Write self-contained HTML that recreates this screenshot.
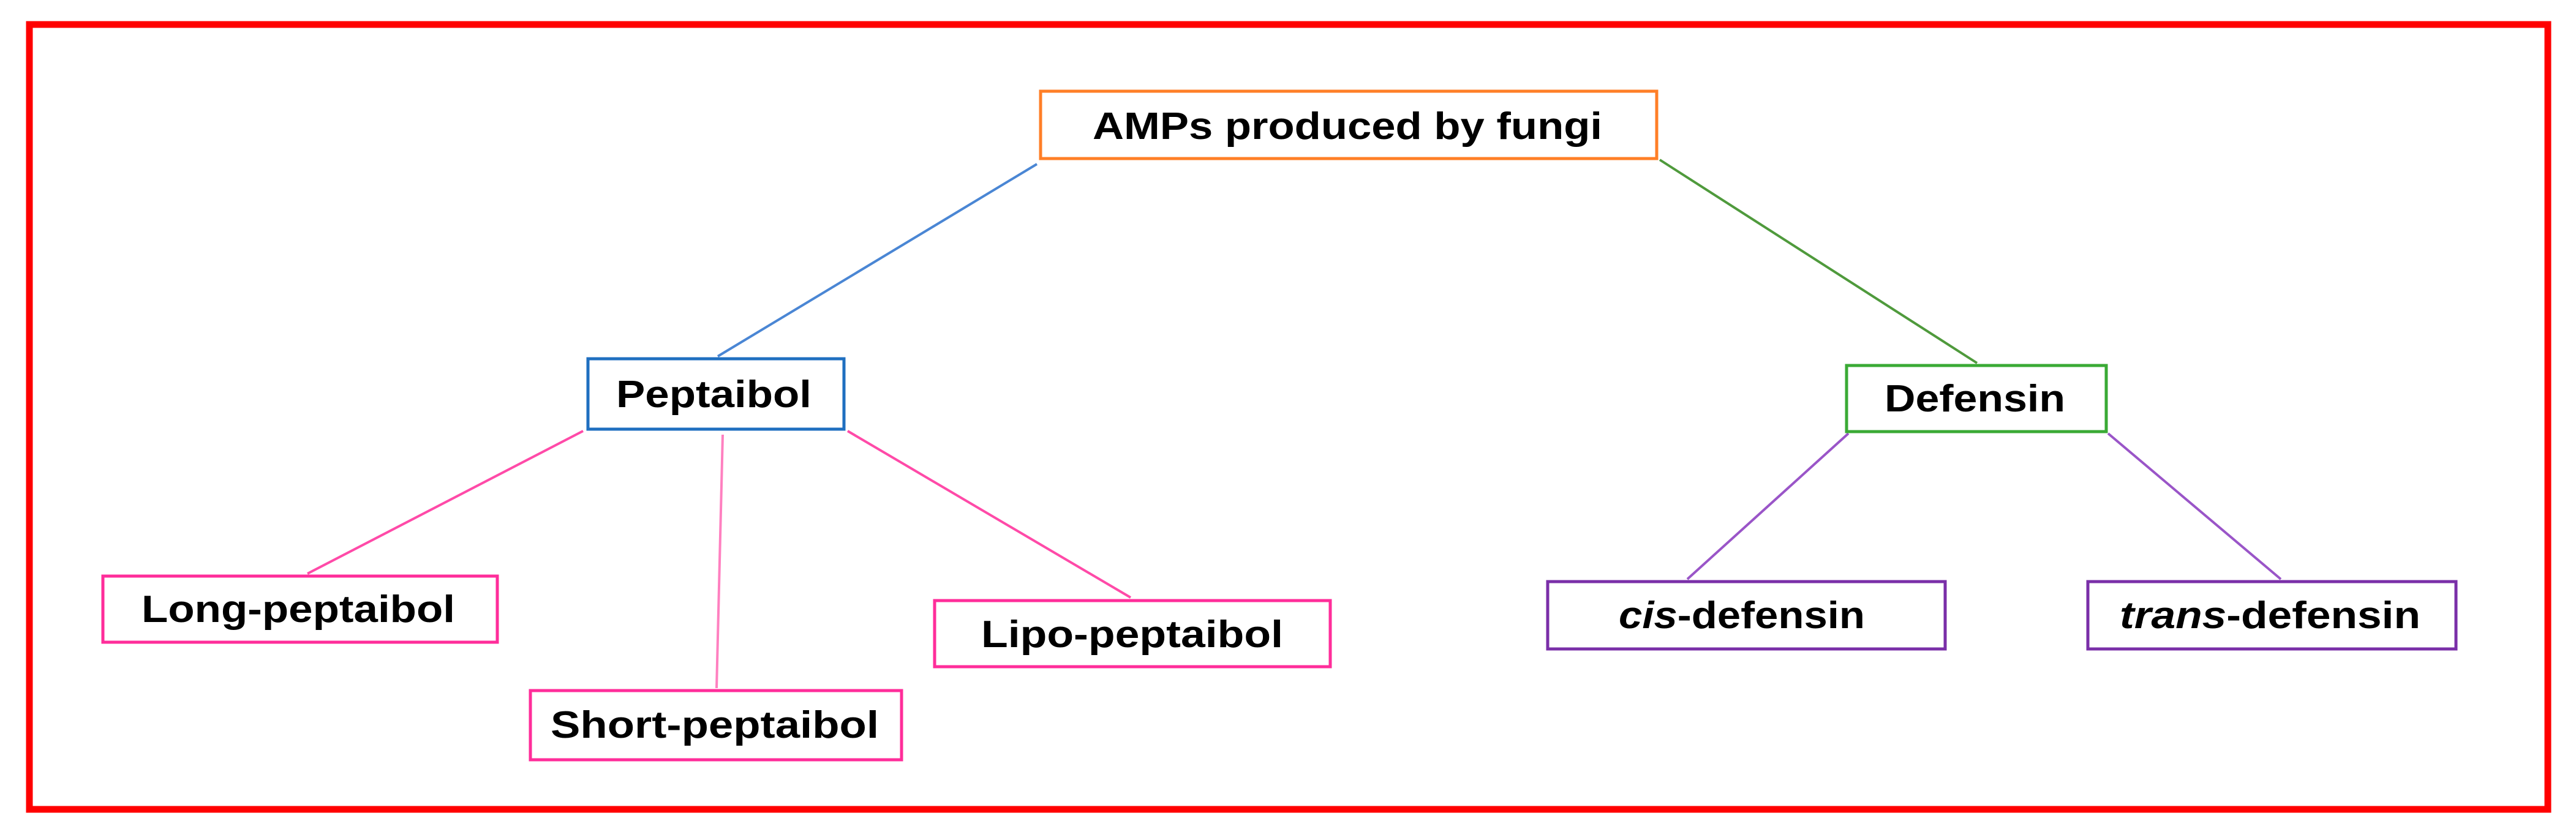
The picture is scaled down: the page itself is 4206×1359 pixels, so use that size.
<!DOCTYPE html>
<html><head><meta charset="utf-8"><style>
html,body{margin:0;padding:0;background:#fff;}
svg{display:block;}
text{font-family:"Liberation Sans",sans-serif;font-weight:bold;font-size:62px;fill:#000;}
</style></head><body>
<svg width="4206" height="1359" viewBox="0 0 4206 1359" xmlns="http://www.w3.org/2000/svg">
<rect x="0" y="0" width="4206" height="1359" fill="#fff"/>
<rect x="48" y="40" width="4112" height="1282" fill="none" stroke="#ff0000" stroke-width="11"/>
<g stroke-width="4" fill="none">
<line x1="1693" y1="268" x2="1172" y2="582" stroke="#4a86d4"/>
<line x1="2710" y1="261" x2="3228" y2="593" stroke="#4f9a3c"/>
<line x1="952" y1="704" x2="502" y2="937" stroke="#ff4aa8"/>
<line x1="1180" y1="710" x2="1170" y2="1124" stroke="#ff80c0"/>
<line x1="1384" y1="704" x2="1846" y2="976" stroke="#ff4aa8"/>
<line x1="3018" y1="708" x2="2755" y2="946" stroke="#9a55c8"/>
<line x1="3442" y1="708" x2="3724" y2="946" stroke="#9a55c8"/>
</g>
<g stroke-width="5" fill="#fff">
<rect x="1699" y="149" width="1006" height="110" stroke="#ff7f27"/>
<rect x="960" y="586" width="418" height="115" stroke="#1f6fc0"/>
<rect x="3015" y="597" width="424" height="108" stroke="#3aaa35"/>
<rect x="168" y="941" width="644" height="108" stroke="#ff2d9a"/>
<rect x="866" y="1128" width="606" height="113" stroke="#ff2d9a"/>
<rect x="1526" y="981" width="646" height="108" stroke="#ff2d9a"/>
<rect x="2527" y="950" width="649" height="110" stroke="#7a2fa8"/>
<rect x="3409" y="950" width="601" height="110" stroke="#7a2fa8"/>
</g>
<text x="1784" y="227" textLength="832" lengthAdjust="spacingAndGlyphs">AMPs produced by fungi</text>
<text x="1006" y="665" textLength="319" lengthAdjust="spacingAndGlyphs">Peptaibol</text>
<text x="3077" y="672" textLength="295" lengthAdjust="spacingAndGlyphs">Defensin</text>
<text x="231" y="1016" textLength="512" lengthAdjust="spacingAndGlyphs">Long-peptaibol</text>
<text x="899" y="1205" textLength="536" lengthAdjust="spacingAndGlyphs">Short-peptaibol</text>
<text x="1602" y="1057" textLength="493" lengthAdjust="spacingAndGlyphs">Lipo-peptaibol</text>
<text x="2643" y="1026" textLength="402" lengthAdjust="spacingAndGlyphs"><tspan font-style="italic">cis</tspan>-defensin</text>
<text x="3461" y="1026" textLength="491" lengthAdjust="spacingAndGlyphs"><tspan font-style="italic">trans</tspan>-defensin</text>
</svg>
</body></html>
